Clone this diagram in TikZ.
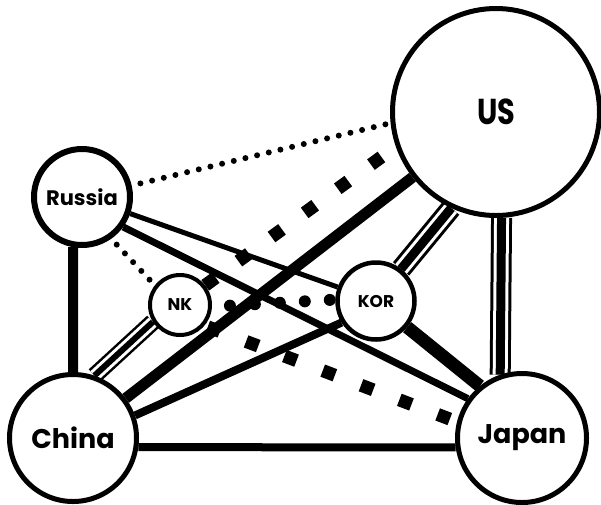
\documentclass[tikz,border=0pt]{standalone}
\usepackage{fontspec}
\setmainfont{Poppins}
\usepackage{graphicx}
\pgfdeclarelayer{bg}
\pgfsetlayers{bg,main}

\begin{document}
\begin{tikzpicture}[x=1pt, y=-1pt,
  country/.style={circle, draw, fill=white, inner sep=0pt},
  lowdots/.style={line width=6pt, line cap=round, dash pattern=on 0pt off 12pt},
  bigdots/.style={line width=12pt, line cap=round, dash pattern=on 0pt off 25pt},
  blocks/.style={line width=13pt, dash pattern=on 13pt off 28pt},
  triple/.style n args={3}{line width=#1,
    postaction={draw=white, line width=#2},
    postaction={draw=black, line width=#3}}]
\useasboundingbox (0,0) rectangle (601,504);
% the six countries
\node[country, line width=5pt, minimum size=207pt,
  font=\bfseries\fontsize{36pt}{36pt}\selectfont] (US) at (496,112) {\scalebox{0.8}[1]{US}};
\node[country, line width=6pt, minimum size=96pt,
  font=\bfseries\fontsize{21pt}{21pt}\selectfont] (Russia) at (82,197) {Russia};
\node[country, line width=4pt, minimum size=60pt,
  font=\bfseries\fontsize{17pt}{17pt}\selectfont] (NK) at (180,305) {NK};
\node[country, line width=4.5pt, minimum size=77pt,
  font=\bfseries\fontsize{17pt}{17pt}\selectfont] (KOR) at (376,301) {KOR};
\node[country, line width=5pt, minimum size=127pt,
  font=\bfseries\fontsize{27pt}{27pt}\selectfont] (China) at (73,438) {China};
\node[country, line width=5pt, minimum size=129pt,
  font=\bfseries\fontsize{27pt}{27pt}\selectfont] (Japan) at (522,438) {Japan};

\begin{pgfonlayer}{bg}
% plain ties
\foreach \from/\to/\w in {
  Russia.-100/China.90/10,
  Russia.-19/KOR.160/5,
  Russia.-36/Japan.144/7,
  China.37/US.218/11,
  China.20/KOR.212/8,
  China.-8/Japan.188/8,
  KOR.-40/Japan.129/13}
{
  \draw[line width=\w pt] (\from) -- (\to);
}
% dotted and dashed ties
\draw[lowdots, dash phase=3pt] (Russia.13) -- (US.186);
\draw[lowdots, dash phase=4pt] (Russia.-55) -- (NK.142);
\draw[bigdots, dash phase=7pt] (NK.-3) -- (KOR.178);
\draw[blocks] (NK.38) -- (US.199);
\draw[blocks, dash phase=37.5pt] (NK.-40) -- (Japan.166);
% triple ties
\draw[triple={17pt}{12pt}{6pt}] (China.71) -- (NK.212);
\draw[triple={21pt}{15pt}{9pt}] (US.245) -- (KOR.52);
\draw[triple={21pt}{15pt}{9pt}] (US.-87) -- (Japan.109);
\end{pgfonlayer}
\end{tikzpicture}
\end{document}
